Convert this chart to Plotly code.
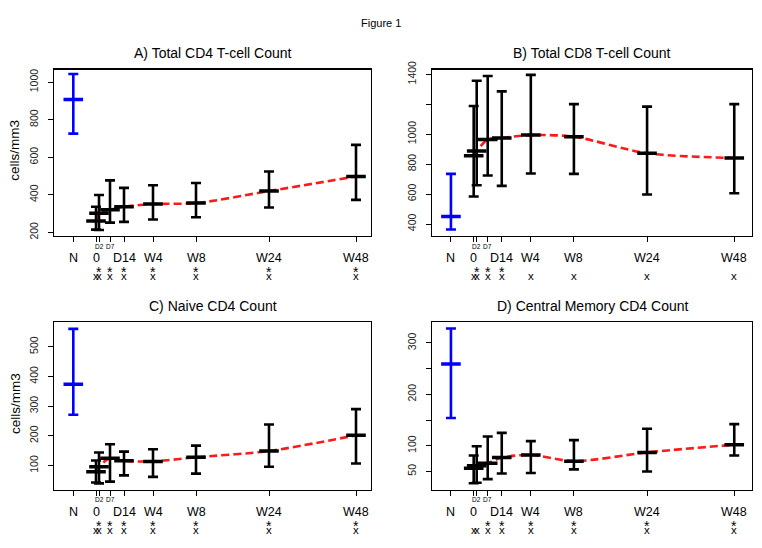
import plotly.graph_objects as go

# ---------------- data ----------------
time_labels = ["N", "0", "D2", "D7", "D14", "W4", "W8", "W24", "W48"]
# horizontal placement of the time points on the x axis (axis units)
time_pos = [-22.7, 0, 3, 14, 28, 57, 100, 173, 260]

cd4_mean = [908, 261, 302, 321, 337, 351, 356, 420, 498]
cd4_upper = [1043, 337, 399, 477, 437, 451, 463, 524, 666]
cd4_lower = [726, 215, 213, 252, 256, 269, 281, 333, 373]

cd8_mean = [450, 856, 888, 964, 975, 994, 983, 873, 841]
cd8_upper = [735, 1188, 1357, 1389, 1286, 1396, 1201, 1184, 1201]
cd8_lower = [363, 584, 659, 724, 655, 737, 735, 597, 605]

naive_mean = [374, 79, 96, 125, 116, 114, 128, 149, 202]
naive_upper = [560, 117, 144, 172, 147, 155, 167, 238, 290]
naive_lower = [271, 43, 40, 46, 67, 62, 73, 96, 107]

cm_mean = [259, 56, 61, 66, 77, 82, 70, 87, 102]
cm_upper = [328, 81, 99, 118, 125, 109, 111, 133, 142]
cm_lower = [154, 27, 28, 35, 46, 47, 54, 50, 81]

titles = ["A) Total CD4 T-cell Count", "B) Total CD8 T-cell Count",
          "C) Naive CD4 Count", "D) Central Memory CD4 Count"]

stars = [["D2", "D7", "D14", "W4", "W8", "W24", "W48"],
         ["D2", "D7", "D14"],
         ["D2", "D7", "D14", "W4", "W8", "W24", "W48"],
         ["D7", "D14", "W4", "W8", "W24", "W48"]]
crosses = [["0", "D2", "D7", "D14", "W4", "W8", "W24", "W48"]] * 4

y_ticks = [[200, 400, 600, 800, 1000],
           [400, 600, 800, 1000, 1200, 1400],
           [100, 200, 300, 400, 500],
           [50, 100, 150, 200, 250, 300]]
y_ticktext = [["200", "400", "600", "800", "1000"],
              ["400", "600", "800", "1000", "", "1400"],
              ["100", "200", "300", "400", "500"],
              ["50", "100", "", "200", "", "300"]]
y_ranges = [[181, 1067], [320, 1432], [19, 582], [14.6, 340]]

panels = [(cd4_mean, cd4_upper, cd4_lower), (cd8_mean, cd8_upper, cd8_lower),
          (naive_mean, naive_upper, naive_lower), (cm_mean, cm_upper, cm_lower)]

# ---------------- layout geometry (pixels) ----------------
W, H = 762, 548
boxes = [(54, 371, 62, 232.5), (432, 752, 62, 232.5),
         (54, 371, 321, 492.3), (432, 752, 321, 492.3)]
x_ranges = [[-42, 275], [-41.6, 277.7], [-42, 275], [-41.6, 277.7]]


def px(x):
    return x / W


def py(y):
    return 1 - y / H


fig = go.Figure()
annotations = []

for i, (mean, up, lo) in enumerate(panels):
    k = "" if i == 0 else str(i + 1)
    xa, ya = "x" + k, "y" + k
    # red dashed trend through the patient time points
    fig.add_trace(go.Scatter(
        x=time_pos[1:], y=mean[1:], mode="lines", xaxis=xa, yaxis=ya,
        line=dict(color="#FF1A1A", width=2.6, dash="8px,4px", shape="spline", smoothing=0.8),
        showlegend=False, hoverinfo="skip"))
    for j in range(len(time_pos)):
        col = "#0000FF" if j == 0 else "black"
        fig.add_trace(go.Scatter(
            x=[time_pos[j]], y=[mean[j]], mode="markers", xaxis=xa, yaxis=ya,
            marker=dict(symbol="line-ew", size=14, color=col,
                        line=dict(color=col, width=3.5)),
            error_y=dict(type="data", symmetric=False,
                         array=[up[j] - mean[j]], arrayminus=[mean[j] - lo[j]],
                         color=col, thickness=2.6, width=5),
            showlegend=False))

    x0, x1, y0, y1 = boxes[i]
    fig.layout["xaxis" + k] = dict(
        domain=[px(x0), px(x1)], range=x_ranges[i], anchor=ya,
        tickvals=time_pos, ticktext=[""] * len(time_pos), ticks="outside",
        ticklen=5, tickwidth=1, tickcolor="black", showgrid=False, zeroline=False,
        showline=True, mirror=True, linecolor="black", linewidth=1.3)
    fig.layout["yaxis" + k] = dict(
        domain=[py(y1), py(y0)], range=y_ranges[i], anchor=xa,
        tickvals=y_ticks[i], ticktext=y_ticktext[i], ticks="outside",
        ticklen=5, tickwidth=1, tickcolor="black", tickangle=-90,
        ticklabelstandoff=6,
        tickfont=dict(size=10.5, color="#222"), showgrid=False, zeroline=False,
        showline=True, mirror=True, linecolor="black", linewidth=1.3)

    # panel title
    annotations.append(dict(text=titles[i], x=px((x0 + x1) / 2), y=py(y0 - 17),
                            xref="paper", yref="paper", showarrow=False,
                            font=dict(size=14, color="black"), xanchor="center",
                            yanchor="middle"))
    # x labels, significance stars and crosses
    for lab, pos in zip(time_labels, time_pos):
        if lab in ("D2", "D7"):
            annotations.append(dict(text=lab, x=pos, y=py(y1 + 10.5), xref=xa, yref="paper",
                                    showarrow=False, font=dict(size=6.5, color="black"),
                                    xanchor="center", yanchor="middle"))
        else:
            annotations.append(dict(text=lab, x=pos, y=py(y1 + 23), xref=xa, yref="paper",
                                    showarrow=False, font=dict(size=12.5, color="black"),
                                    xanchor="center", yanchor="middle"))
        if lab in stars[i]:
            annotations.append(dict(text="*", x=pos, y=py(y1 + 37), xref=xa, yref="paper",
                                    showarrow=False, font=dict(size=14, color="black"),
                                    xanchor="center", yanchor="middle"))
        if lab in crosses[i]:
            annotations.append(dict(text="x", x=pos, y=py(y1 + 41), xref=xa, yref="paper",
                                    showarrow=False, font=dict(size=11.5, color="black"),
                                    xanchor="center", yanchor="middle"))

# y-axis titles
for (x0, x1, y0, y1) in (boxes[0], boxes[2]):
    annotations.append(dict(text="cells/mm3", x=px(15), y=py((y0 + y1) / 2 - 2),
                            xref="paper", yref="paper", showarrow=False, textangle=-90,
                            font=dict(size=13.5, color="black"),
                            xanchor="center", yanchor="middle"))

annotations.append(dict(text="Figure 1", x=0.5, y=py(14), xref="paper", yref="paper",
                        showarrow=False, font=dict(size=11, color="black"),
                        xanchor="center", yanchor="middle"))

fig.update_layout(
    width=W, height=H, margin=dict(l=0, r=0, t=0, b=0),
    paper_bgcolor="white", plot_bgcolor="white",
    font=dict(family="Liberation Sans, Arial, sans-serif", color="black"),
    annotations=annotations, showlegend=False)

fig.write_html(
    "out.html",
    config={"displayModeBar": False, "staticPlot": True},
    post_script=(
        "document.documentElement.style.margin='0';"
        "document.documentElement.style.overflow='hidden';"
        "document.body.style.margin='0';document.body.style.overflow='hidden';"
        "var gd=document.querySelector('.plotly-graph-div');"
        "gd.style.position='fixed';gd.style.left='0px';gd.style.top='0px';"
    ))
